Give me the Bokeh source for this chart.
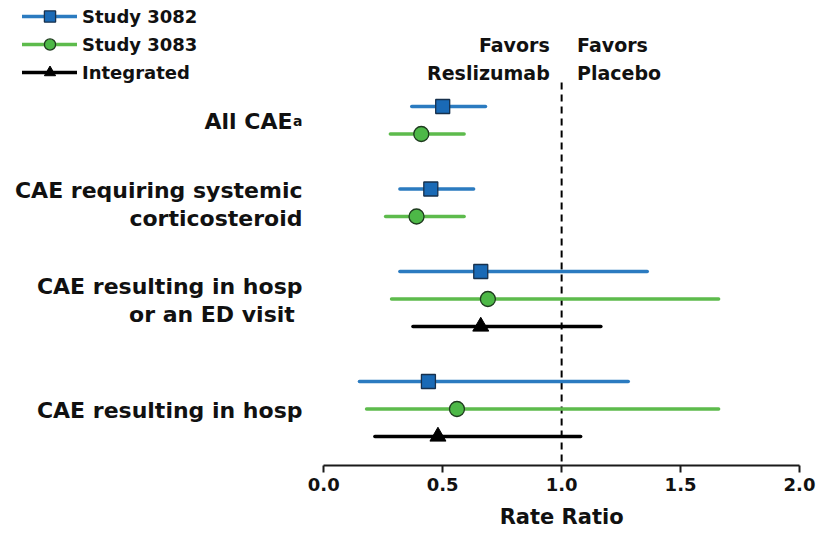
from bokeh.plotting import figure
from bokeh.models import (Range1d, LinearAxis, FixedTicker, NumeralTickFormatter,
                          Legend, LegendItem, ColumnDataSource, Title)
from bokeh.core.properties import value
from bokeh.embed import file_html
from bokeh.resources import INLINE

# ---- data -----------------------------------------------------------------
categories = [
    "All CAE",
    "CAE requiring systemic\ncorticosteroid",
    "CAE resulting in hosp\nor an  ED visit",
    "CAE resulting in hosp",
]
footnotes = ["a", "", "", ""]

study_3082_rr = [0.50, 0.45, 0.66, 0.44]
study_3082_lo = [0.37, 0.32, 0.32, 0.15]
study_3082_hi = [0.68, 0.63, 1.36, 1.28]

study_3083_rr = [0.41, 0.39, 0.69, 0.56]
study_3083_lo = [0.28, 0.26, 0.285, 0.18]
study_3083_hi = [0.59, 0.59, 1.66, 1.66]

integrated_outcomes = [2, 3]          # pooled estimate only for these outcomes
integrated_rr = [0.66, 0.48]
integrated_lo = [0.375, 0.215]
integrated_hi = [1.165, 1.08]

x_ticks = [0.0, 0.5, 1.0, 1.5, 2.0]
null_ratio = 1.0

# ---- layout ---------------------------------------------------------------
FONT = "DejaVu Sans"
TEXT = "#111111"
X_LEFT, X_RIGHT = -1.359, 2.0         # room on the left for the outcome labels
Y_TOP, Y_BOTTOM = -3.855, 13.055      # row units; axis line sits at Y_BOTTOM
group_start = [0, 3, 6, 10]           # row slot of each outcome's first series
rows_3082 = [group_start[i] + 0 for i in range(len(categories))]
rows_3083 = [group_start[i] + 1 for i in range(len(categories))]
rows_int = [group_start[i] + 2 for i in integrated_outcomes]
label_rows = []
for i in range(len(categories)):
    n = 3 if i in integrated_outcomes else 2
    label_rows.append(group_start[i] + (n - 1) / 2 + 0.06)

W, H = 819, 538
BORDER_RIGHT = 20
p = figure(width=W, height=H, output_backend="svg", toolbar_location=None,
           x_range=Range1d(X_LEFT, X_RIGHT), y_range=Range1d(Y_BOTTOM, Y_TOP),
           x_axis_location=None, y_axis_location=None,
           min_border_left=0, min_border_right=BORDER_RIGHT, min_border_top=0,
           min_border_bottom=73)
p.outline_line_color = None
p.xgrid.visible = False
p.ygrid.visible = False
p.background_fill_color = "white"
p.border_fill_color = "white"

# x axis restricted to the 0..2 interval
xaxis = LinearAxis(bounds=(x_ticks[0], x_ticks[-1]),
                   ticker=FixedTicker(ticks=x_ticks),
                   formatter=NumeralTickFormatter(format="0.0"))
xaxis.axis_line_width = 2
xaxis.axis_line_color = "#1a1a1a"
xaxis.major_tick_line_width = 2
xaxis.major_tick_line_color = "#1a1a1a"
xaxis.major_tick_out = 7
xaxis.major_tick_in = 0
xaxis.minor_tick_line_color = None
xaxis.major_label_text_font = FONT
xaxis.major_label_text_font_style = "bold"
xaxis.major_label_text_font_size = "18px"
xaxis.major_label_text_color = TEXT
xaxis.major_label_standoff = 5
p.add_layout(xaxis, "below")

# axis title centred under the 0..2 span (offset from the frame's left edge)
frame_w = W - BORDER_RIGHT
px_per_unit = frame_w / (X_RIGHT - X_LEFT)
mid_px = ((x_ticks[0] + x_ticks[-1]) / 2 - X_LEFT) * px_per_unit
title_w = 124
p.add_layout(Title(text="Rate Ratio", align="left", offset=mid_px - title_w / 2,
                   text_font=FONT, text_font_style="bold",
                   text_font_size="21px", text_color=TEXT, standoff=18),
             "below")

# null-effect reference line
p.segment(x0=[null_ratio], y0=[-0.87], x1=[null_ratio], y1=[Y_BOTTOM],
          line_color="black", line_width=2, line_dash="7 5")

# "favors" annotations on either side of the reference line
p.text(x=[null_ratio - 0.05], y=[-1.72], text=["Favors\nReslizumab"],
       text_align="right", text_baseline="middle", text_font=value(FONT),
       text_font_style="bold", text_font_size="19px", text_color=TEXT,
       text_line_height=1.25)
p.text(x=[null_ratio + 0.065], y=[-1.72], text=["Favors\nPlacebo"],
       text_align="left", text_baseline="middle", text_font=value(FONT),
       text_font_style="bold", text_font_size="19px", text_color=TEXT,
       text_line_height=1.25)

# outcome labels
label_right = -0.0895
foot_w = 0.042
lab_x = [label_right - (foot_w if f else 0) for f in footnotes]
p.text(x=lab_x, y=label_rows, text=categories, text_align="right",
       text_baseline="middle", text_font=value(FONT), text_font_style="bold",
       text_font_size="22px", text_color=TEXT, text_line_height=1.094)
fn_x = [lab_x[i] + 0.002 for i, f in enumerate(footnotes) if f]
fn_y = [label_rows[i] - 0.02 for i, f in enumerate(footnotes) if f]
p.text(x=fn_x, y=fn_y, text=[f for f in footnotes if f], text_align="left",
       text_baseline="alphabetic", text_font=value(FONT),
       text_font_style="bold", text_font_size="14px", text_color=TEXT)

# ---- series ---------------------------------------------------------------
src_a = ColumnDataSource(dict(rr=study_3082_rr, lo=study_3082_lo,
                              hi=study_3082_hi, y=rows_3082))
src_b = ColumnDataSource(dict(rr=study_3083_rr, lo=study_3083_lo,
                              hi=study_3083_hi, y=rows_3083))
src_c = ColumnDataSource(dict(rr=integrated_rr, lo=integrated_lo,
                              hi=integrated_hi, y=rows_int))

seg_a = p.segment(x0="lo", y0="y", x1="hi", y1="y", source=src_a,
                  line_color="#2B7BC0", line_width=3.5, line_cap="round")
mk_a = p.scatter(x="rr", y="y", source=src_a, marker="square", size=14,
                 fill_color="#1A6AB6", line_color="#17304C", line_width=1.3)

seg_b = p.segment(x0="lo", y0="y", x1="hi", y1="y", source=src_b,
                  line_color="#5DBB4C", line_width=3.5, line_cap="round")
mk_b = p.scatter(x="rr", y="y", source=src_b, marker="circle", size=15,
                 fill_color="#4DB847", line_color="#1E3A1E", line_width=1.3)

seg_c = p.segment(x0="lo", y0="y", x1="hi", y1="y", source=src_c,
                  line_color="black", line_width=3.5, line_cap="round")
mk_c = p.scatter(x="rr", y="y", source=src_c, marker="triangle", size=16,
                 fill_color="black", line_color="black", line_width=1)

legend = Legend(items=[
    LegendItem(label="Study 3082", renderers=[seg_a, mk_a]),
    LegendItem(label="Study 3083", renderers=[seg_b, mk_b]),
    LegendItem(label="Integrated", renderers=[seg_c, mk_c]),
], location=(22, 379))
legend.glyph_width = 55
legend.glyph_height = 28
legend.label_height = 28
legend.spacing = 0
legend.padding = 0
legend.margin = 0
legend.label_standoff = 5
legend.label_text_font = FONT
legend.label_text_font_style = "bold"
legend.label_text_font_size = "18px"
legend.label_text_color = TEXT
legend.border_line_color = None
legend.background_fill_alpha = 0
p.add_layout(legend, "center")

open("out.html", "w").write(file_html(p, INLINE))
